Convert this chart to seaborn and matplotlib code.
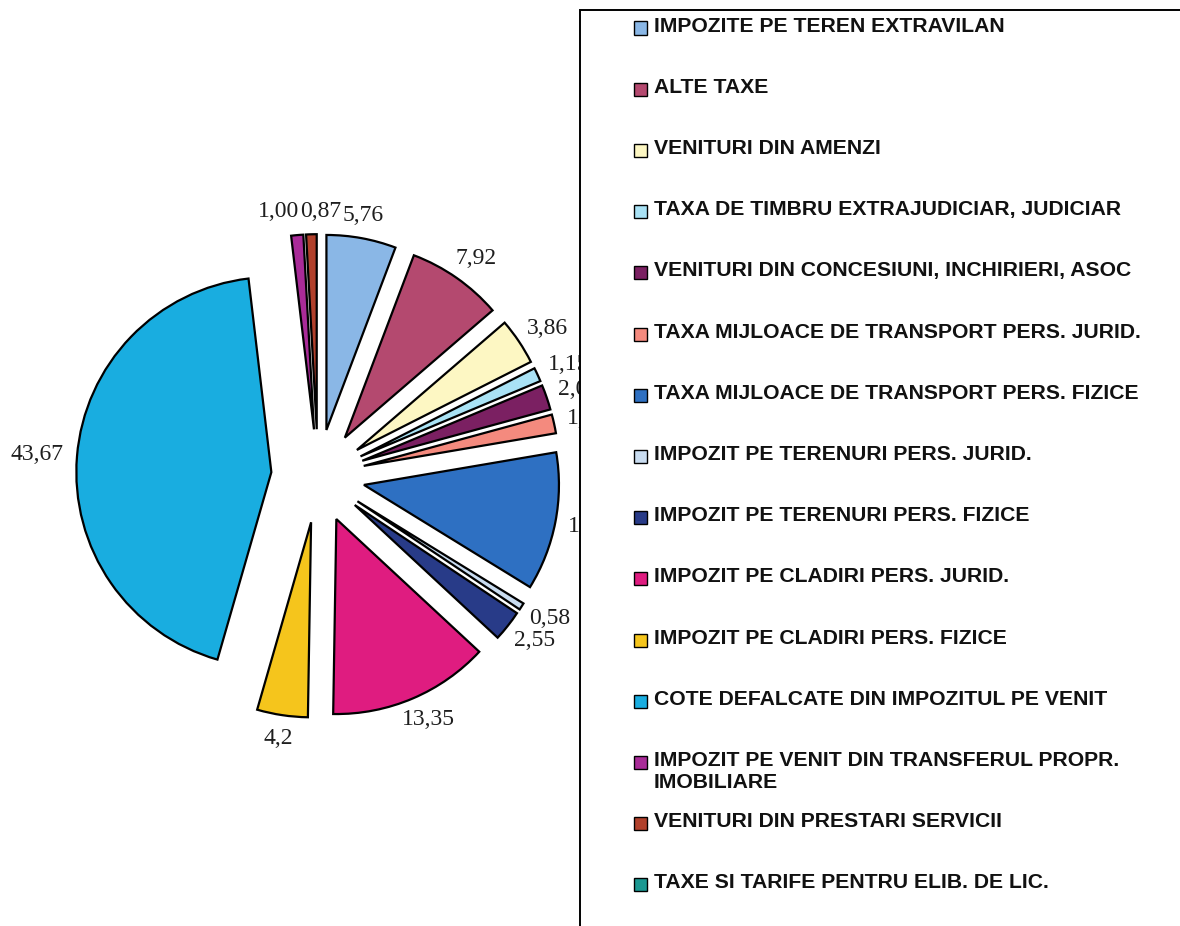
#!/usr/bin/env python3
import numpy as np
import matplotlib
matplotlib.use("Agg")
import matplotlib.pyplot as plt
from matplotlib.patches import Rectangle
import seaborn as sns

sns.set_theme(style="white")
plt.rcParams["font.family"] = ["Liberation Sans", "DejaVu Sans"]

# legend order = pie order (clockwise from 12 o'clock)
CATEGORIES = [
    "IMPOZITE PE TEREN EXTRAVILAN",
    "ALTE TAXE",
    "VENITURI DIN AMENZI",
    "TAXA DE TIMBRU EXTRAJUDICIAR, JUDICIAR",
    "VENITURI DIN CONCESIUNI, INCHIRIERI, ASOC",
    "TAXA MIJLOACE DE TRANSPORT PERS. JURID.",
    "TAXA MIJLOACE DE TRANSPORT PERS. FIZICE",
    "IMPOZIT PE TERENURI PERS. JURID.",
    "IMPOZIT PE TERENURI PERS. FIZICE",
    "IMPOZIT PE CLADIRI PERS. JURID.",
    "IMPOZIT PE CLADIRI PERS. FIZICE",
    "COTE DEFALCATE DIN IMPOZITUL PE VENIT",
    "IMPOZIT PE VENIT DIN TRANSFERUL PROPR.\nIMOBILIARE",
    "VENITURI DIN PRESTARI SERVICII",
    "TAXE SI TARIFE PENTRU ELIB. DE LIC.",
]
VALUES = [5.76, 7.92, 3.86, 1.15, 2.07, 1.56, 11.46, 0.58, 2.55, 13.35, 4.2, 43.67, 1.00, 0.87, 0.0]
VALUE_LABELS = ["5,76", "7,92", "3,86", "1,15", "2,07", "1,56", "11,46", "0,58", "2,55",
                "13,35", "4,2", "43,67", "1,00", "0,87", ""]
COLORS = [
    "#8ab7e6", "#b4496f", "#fdf7c3", "#a9e2f5", "#7b2062", "#f48a7e", "#2e70c2",
    "#c9dcf0", "#283b88", "#df1c80", "#f5c51c", "#19ade0", "#a92b98", "#b1402b",
    "#1b9892",
]

W, H = 1180, 926
fig = plt.figure(figsize=(W / 100, H / 100), dpi=100)

# pie axes: 1 data unit = R px, pie centre at (cx, cy) px from top-left
R = 195.0
cx, cy = 318.0, 476.0
ax_w = 580.0
ax = fig.add_axes([0, 0, ax_w / W, 1])

shown = [i for i, v in enumerate(VALUES) if v > 0]
vals = [VALUES[i] for i in shown]
cols = [COLORS[i] for i in shown]
wedges, _ = ax.pie(
    vals,
    colors=cols,
    startangle=90,
    counterclock=False,
    explode=[0.24] * len(vals),
    wedgeprops={"edgecolor": "black", "linewidth": 1.6},
)
ax.set_xlim(-cx / R, (ax_w - cx) / R)
ax.set_ylim(-(H - cy) / R, cy / R)
ax.set_aspect("auto")
ax.axis("off")

# value labels: box pushed out along the mid-angle ray so it clears the pie
D = 255.0          # px from centre to the near side of the label
text_h = 20.0
nudge_px = {"1,00": -16.0, "0,87": 10.0, "5,76": -4.0}
for w, i in zip(wedges, shown):
    lab = VALUE_LABELS[i]
    ang = np.deg2rad((w.theta1 + w.theta2) / 2)
    dx, dy = np.cos(ang), np.sin(ang)
    text_w = 11.8 * (len(lab) - 1) + 5.9
    px = D * dx + text_w / 2 * dx + nudge_px.get(lab, 0.0)
    py = D * dy + text_h / 2 * dy
    ax.text(px / R, py / R, lab, ha="center", va="center",
            fontsize=17, family=["Liberation Serif", "DejaVu Serif"], color="#1e1e1e")

# legend box drawn over the right part (clips labels like the original)
box = Rectangle((580 / W, -0.05), 1.0, (H - 10) / H + 0.05, transform=fig.transFigure,
                facecolor="white", edgecolor="black", linewidth=1.4, zorder=2)
fig.patches.append(box)

pitch = 61.2
y0 = 28.0
sq = 13.0
for k, (lab, col) in enumerate(zip(CATEGORIES, COLORS)):
    yc = y0 + k * pitch
    fig.patches.append(Rectangle((634 / W, 1 - (yc + sq / 2) / H), sq / W, sq / H,
                                 transform=fig.transFigure, facecolor=col,
                                 edgecolor="black", linewidth=1.0, zorder=3))
    fig.text(654 / W, 1 - (yc - 11.5) / H, lab, ha="left", va="top", fontsize=15.2,
             fontweight="bold", color="#111111", zorder=4, linespacing=1.2)

fig.savefig("out.png", dpi=100)
